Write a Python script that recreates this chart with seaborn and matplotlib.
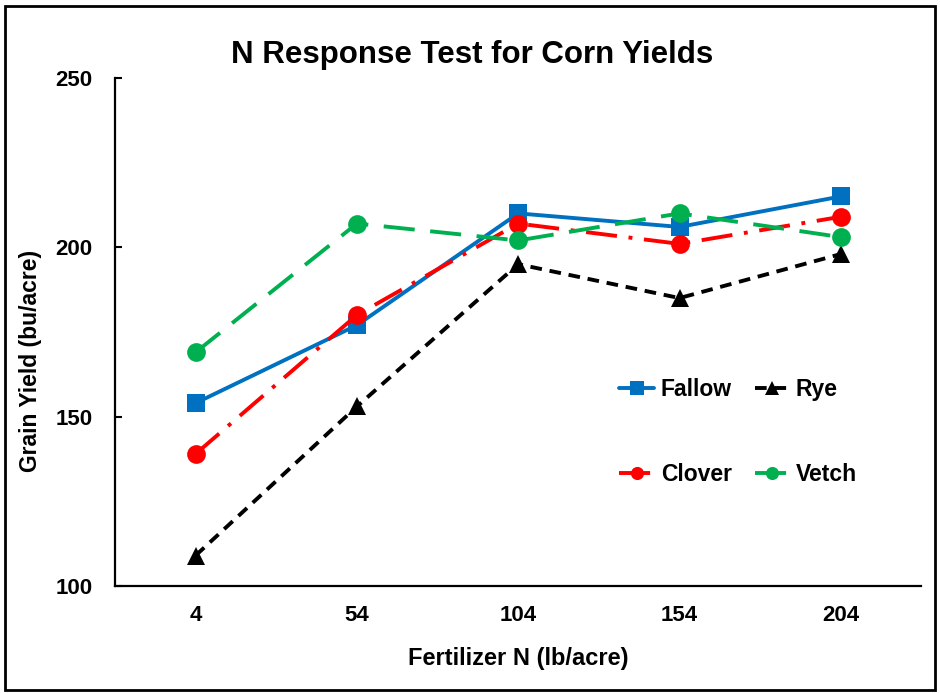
import matplotlib
matplotlib.use("Agg")
import matplotlib.pyplot as plt
import seaborn as sns
from matplotlib.patches import Rectangle

# ── Data ──────────────────────────────────────────────────────
n_rate = [4, 54, 104, 154, 204]
fallow = [154, 177, 210, 206, 215]
rye = [109, 153, 195, 185, 198]
clover = [139, 180, 207, 201, 209]
vetch = [169, 207, 202, 210, 203]

sns.set_style("white")
plt.rcParams["font.family"] = ["Liberation Sans", "DejaVu Sans"]
plt.rcParams["font.weight"] = "bold"
plt.rcParams["text.color"] = "black"
plt.rcParams["xtick.color"] = "black"
plt.rcParams["ytick.color"] = "black"
plt.rcParams["axes.labelcolor"] = "black"

fig = plt.figure(figsize=(9.4, 6.93), dpi=100)
ax = fig.add_axes([0.1223, 0.1544, 0.858, 0.7332])

series = [
    ("Fallow", fallow, "#0070C0", "s", "-"),
    ("Rye", rye, "#000000", "^", (0, (3, 2))),
    ("Clover", clover, "#FF0000", "o", (0, (8, 3, 1, 3))),
    ("Vetch", vetch, "#00B050", "o", (0, (8, 4))),
]

for name, vals, col, mk, ls in series:
    sns.lineplot(x=n_rate, y=vals, ax=ax, color=col, marker=mk, markersize=13.5,
                 markeredgecolor=col, markeredgewidth=0, linestyle=ls,
                 linewidth=2.8, label=name)

ax.set_xlim(-21, 229)
ax.set_ylim(100, 250)
ax.set_xticks(n_rate)
ax.set_yticks([100, 150, 200, 250])
ax.tick_params(axis="x", length=0, pad=14, labelsize=16)
ax.tick_params(axis="y", direction="in", length=5, width=1.5, left=True,
               pad=16, labelsize=16)
for lab in ax.get_xticklabels() + ax.get_yticklabels():
    lab.set_fontweight("bold")

for side in ["top", "right"]:
    ax.spines[side].set_visible(False)
for side in ["left", "bottom"]:
    ax.spines[side].set_color("black")
    ax.spines[side].set_linewidth(1.6)

ax.set_xlabel("Fertilizer N (lb/acre)", fontsize=17, fontweight="bold", labelpad=15)
ax.set_ylabel("")
fig.text(0.032, 0.479, "Grain Yield (bu/acre)", rotation=90, fontsize=16.5,
         fontweight="bold", ha="center", va="center")
fig.text(0.502, 0.92, "N Response Test for Corn Yields", fontsize=22.5,
         fontweight="bold", ha="center", va="center")

# row 1: Fallow, Rye ; row 2: Clover, Vetch (legend fills column-wise)
h, l = ax.get_legend_handles_labels()
order = [0, 2, 1, 3]
ax.legend([h[i] for i in order], [l[i] for i in order], ncol=2, frameon=False,
          loc="upper left", bbox_to_anchor=(0.6, 0.45),
          markerscale=0.7, handlelength=1.5, handletextpad=0.3,
          columnspacing=1.0, labelspacing=2.7, prop={"weight": "bold", "size": 16.5})

fig.patches.append(Rectangle((0.005, 0.005), 0.99, 0.987, transform=fig.transFigure,
                             fill=False, edgecolor="black", linewidth=2))

plt.savefig("out.png", dpi=100)
plt.close()
